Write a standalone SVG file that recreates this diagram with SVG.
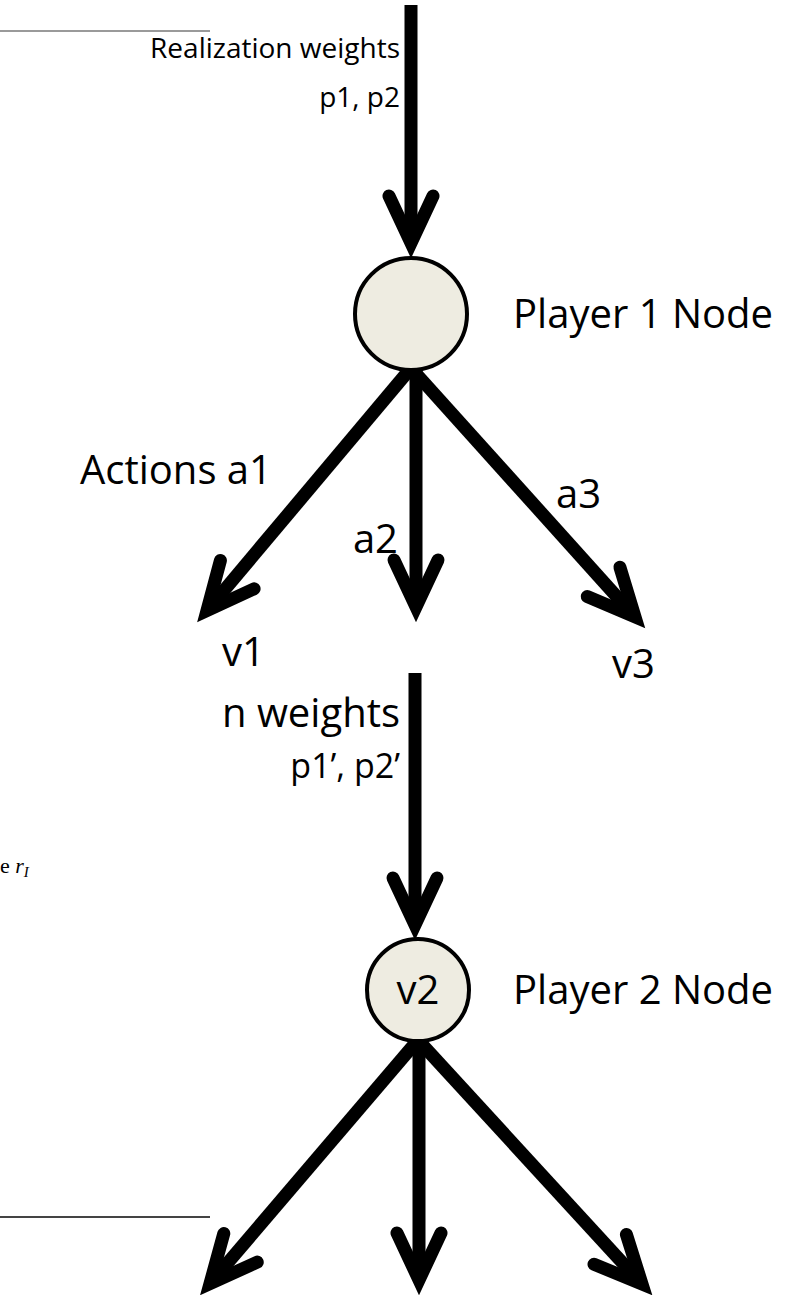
<svg xmlns="http://www.w3.org/2000/svg" width="809" height="1295" viewBox="0 0 809 1295">
  <style>
    .lbl { font-family: "Open Sans", "Liberation Sans", sans-serif; font-size: 40px; fill: #000; }
    .sm { font-size: 28px; }
    .end { text-anchor: end; }
    .mid { text-anchor: middle; }
    .edge { fill: none; stroke: #000; stroke-width: 13; stroke-linecap: butt; }
    .node { fill: #EEECE1; stroke: #000; stroke-width: 4; }
    .rule { stroke-width: 2; }
    .math { font-family: "Liberation Serif", serif; font-size: 22px; fill: #000; }
  </style>
  <defs>
    <!-- open chevron arrowhead; the visible tip sits about 15px past the line end -->
    <marker id="head" markerUnits="userSpaceOnUse" orient="auto" refX="0" refY="0"
            markerWidth="80" markerHeight="80" viewBox="-60 -40 80 80" overflow="visible">
      <path d="M-47,-22 L0,0 L-47,22" fill="none" stroke="#000" stroke-width="13"
            stroke-linecap="round" stroke-linejoin="miter"/>
    </marker>
  </defs>

  <!-- page rules and a fragment of page text at the left edge -->
  <line class="rule" x1="0" y1="31" x2="210" y2="31" stroke="#9a9a9a"/>
  <line class="rule" x1="0" y1="1217" x2="210" y2="1217" stroke="#444"/>
  <text class="math" x="0" y="873">e <tspan font-style="italic">r</tspan><tspan font-style="italic" font-size="15" dy="4">I</tspan></text>

  <g id="connectors">
    <line class="edge" x1="411" y1="5" x2="411" y2="243" marker-end="url(#head)"/>
    <line class="edge" x1="411" y1="368" x2="207" y2="610.6" marker-end="url(#head)"/>
    <line class="edge" x1="416" y1="368" x2="416" y2="607" marker-end="url(#head)"/>
    <line class="edge" x1="411" y1="368" x2="635" y2="616.8" marker-end="url(#head)"/>
    <line class="edge" x1="415" y1="673" x2="415" y2="925" marker-end="url(#head)"/>
    <line class="edge" x1="418" y1="1040" x2="210" y2="1283.6" marker-end="url(#head)"/>
    <line class="edge" x1="419" y1="1040" x2="419" y2="1280" marker-end="url(#head)"/>
    <line class="edge" x1="418" y1="1040" x2="642" y2="1284" marker-end="url(#head)"/>
  </g>

  <g id="player1">
    <circle class="node" cx="411" cy="314" r="56"/>
    <text class="lbl" x="513" y="328">Player 1 Node</text>
  </g>

  <g id="player2">
    <circle class="node" cx="418" cy="990" r="51"/>
    <text class="lbl mid" x="418" y="1004">v2</text>
    <text class="lbl" x="513" y="1004">Player 2 Node</text>
  </g>

  <g id="labels">
    <text class="lbl sm end" x="400" y="58">Realization weights</text>
    <text class="lbl sm end" x="400" y="107">p1, p2</text>
    <text class="lbl" x="80" y="484">Actions a1</text>
    <text class="lbl end" x="398" y="553">a2</text>
    <text class="lbl" x="556" y="508">a3</text>
    <text class="lbl" x="222" y="666">v1</text>
    <text class="lbl" x="612" y="678">v3</text>
    <text class="lbl end" x="400" y="727">n weights</text>
    <text class="lbl end" x="400" y="778" style="font-size:34px">p1’, p2’</text>
  </g>
</svg>
